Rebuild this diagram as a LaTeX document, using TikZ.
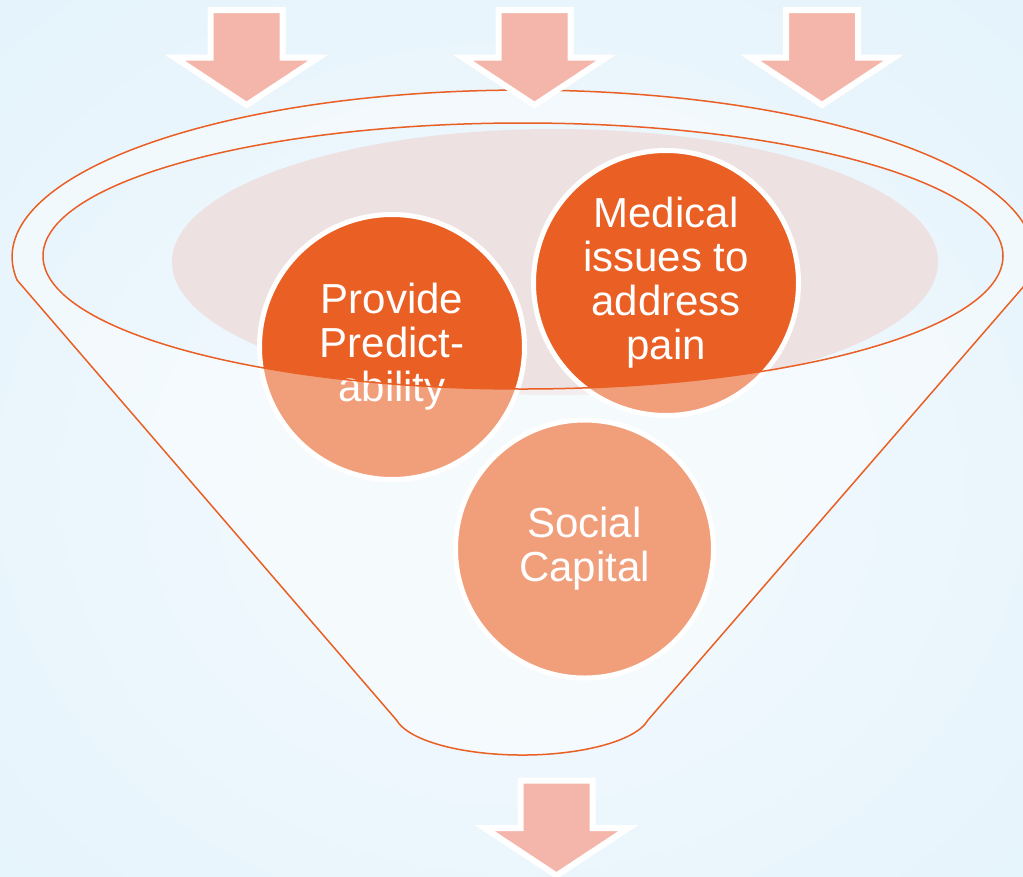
\documentclass[tikz,border=0pt]{standalone}
\usepackage{fontspec}
\setmainfont{Liberation Sans}

\definecolor{bgin}{HTML}{EFF8FD}
\definecolor{bgout}{HTML}{D6ECFA}
\definecolor{funnelline}{HTML}{E95F24}
\definecolor{ballfill}{HTML}{E95F24}
\definecolor{arrowpink}{HTML}{F4B6AA}
\definecolor{rimpink}{HTML}{EDE1E2}

% soft blue backdrop, lighter towards the middle
\pgfdeclareradialshading{backdrop}{\pgfpoint{0bp}{-4bp}}{%
  color(0bp)=(bgin); color(12bp)=(bgin); color(72bp)=(bgout)}

\begin{document}
\begin{tikzpicture}[x=1pt,y=1pt,
  ball/.style={circle, fill=ballfill, draw=white, line width=5pt,
    text=white, align=center, inner sep=0pt,
    font=\fontsize{42}{44}\selectfont},
  funnelrim/.style={draw=funnelline, line width=1.5pt, line join=round},
  droparrow/.style={fill=arrowpink, draw=white, line width=6pt, line join=miter},
  pics/drop/.style={code={
    \draw[droparrow] (-36,0) -- (36,0) -- (36,-47.5) -- (72,-47.5)
      -- (0,-95) -- (-72,-47.5) -- (-36,-47.5) -- cycle;}}
]
\useasboundingbox (0,0) rectangle (1023,-876);
\shade[shading=backdrop] (0,0) rectangle (1023,-876);

% pale disc seen through the funnel mouth
\fill[rimpink] (555,-262) ellipse[x radius=383pt, y radius=133pt];

% the three balls
\node[ball, minimum size=265pt] (predict) at (392,-347) {Provide\\Predict-\\ability};
\node[ball, minimum size=265pt] (medical) at (666,-283) {Medical\\issues to\\address\\pain};
\node[ball, minimum size=258pt] (social) at (584.5,-549) {Social\\Capital};

% translucent funnel body (the mouth stays open)
\path[fill=white, fill opacity=0.4, even odd rule]
  (17,-280) arc[start angle=187.9, end angle=-7.9, x radius=511pt, y radius=167pt]
  -- (648,-720) arc[start angle=-10.7, end angle=-169.3, x radius=128pt, y radius=43pt]
  -- cycle
  (523,-256) ellipse[x radius=480pt, y radius=133pt];

% funnel outlines
\draw[funnelrim]
  (17,-280) arc[start angle=187.9, end angle=-7.9, x radius=511pt, y radius=167pt]
  -- (648,-720) arc[start angle=-10.7, end angle=-169.3, x radius=128pt, y radius=43pt]
  -- cycle;
\draw[funnelrim] (523,-256) ellipse[x radius=480pt, y radius=133pt];

% arrows feeding in and coming out
\pic (inleft) at (246.5,-10) {drop};
\pic (inmid) at (534.5,-10) {drop};
\pic (inright) at (822,-10) {drop};
\pic (out) at (556.5,-780.5) {drop};
\end{tikzpicture}
\end{document}
